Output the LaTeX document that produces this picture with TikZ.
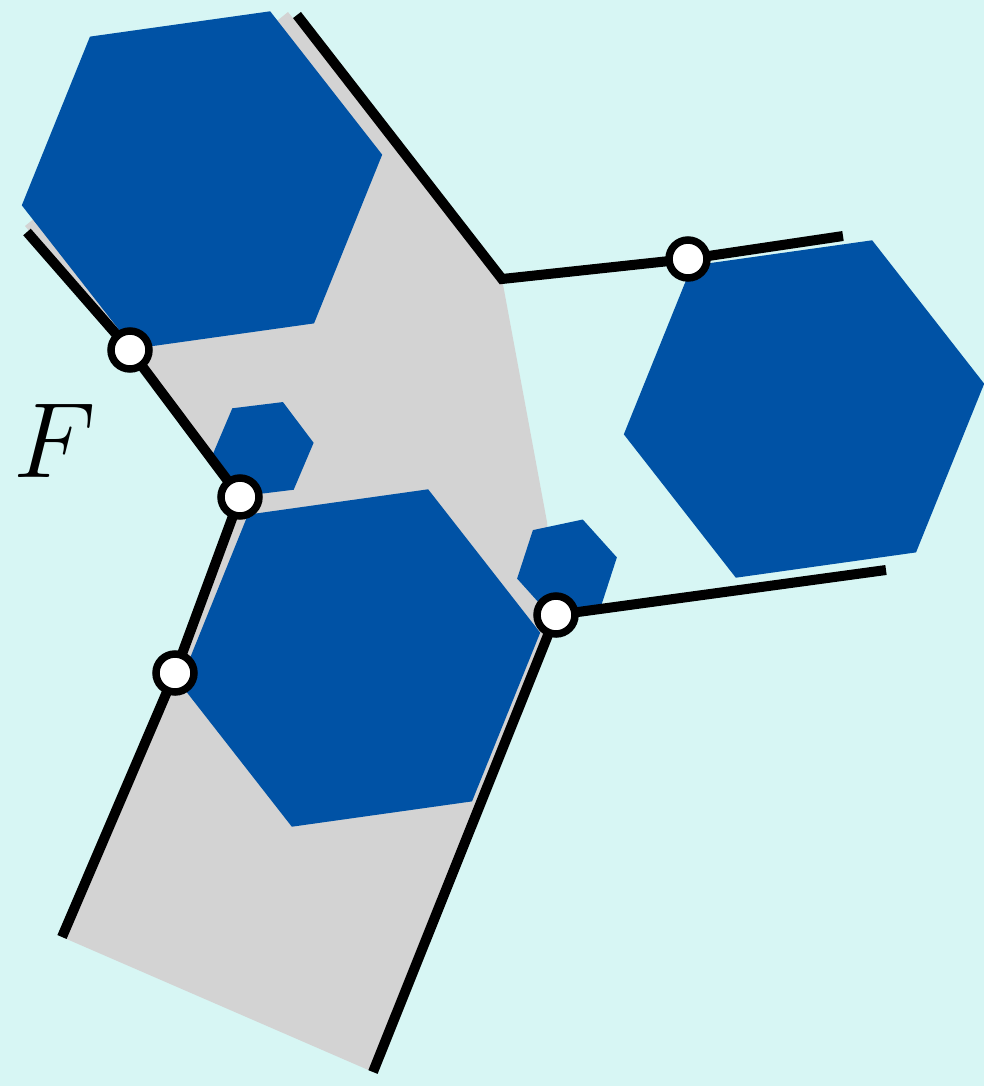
\documentclass[tikz,border=0pt]{standalone}
\usepackage{tikz}
\usetikzlibrary{shapes.geometric}
\definecolor{bgcyan}{HTML}{D7F6F4}
\definecolor{hexblue}{HTML}{0052A5}
\definecolor{regiongray}{HTML}{D3D3D3}

\begin{document}
\begin{tikzpicture}[x=0.02cm,y=-0.02cm,
  hexbig/.style={regular polygon,regular polygon sides=6,fill=hexblue,inner sep=0pt,outer sep=0pt,minimum size=7.28cm,rotate=8},
  hexsmall/.style={hexbig,minimum size=2.04cm},
  wall/.style={line width=0.2cm},
  joint/.style={circle,draw,line width=0.15cm,fill=white,inner sep=0pt,minimum size=0.76cm}
]
\fill[bgcyan] (0,0) rectangle (984,1086);
\useasboundingbox (0,0) rectangle (984,1086);

% points on the walls
\coordinate (p1) at (130,350);
\coordinate (p2) at (240,497);
\coordinate (p3) at (175,673);
\coordinate (p4) at (556,615);
\coordinate (p5) at (688,259);
\coordinate (wa) at (27,232);
\coordinate (wb) at (62,937);
\coordinate (wc) at (297,15);
\coordinate (wd) at (502,279);
\coordinate (we) at (843,236);
\coordinate (wf) at (886,570);
\coordinate (wg) at (373,1072);

% region
\fill[regiongray] (25,226) -- (288,12) -- (wd) -- (547,522) -- (p4) -- (wg)
  -- (wb) -- (p3) -- (p2) -- (p1) -- cycle;

% hexagons
\node[hexbig] (hexA) at (202,180) {};
\node[hexbig] (hexB) at (804,409) {};
\node[hexbig] (hexC) at (360,658) {};
\node[hexsmall,rotate=-1] (hexD) at (263,449) {};
\node[hexsmall,rotate=4] (hexE) at (567,568) {};

% walls
\draw[wall] (wa) -- (p1) -- (p2) -- (p3) -- (wb);
\draw[wall] (wc) -- (wd) -- (p5) -- (we);
\draw[wall] (wf) -- (p4) -- (wg);

\foreach \i in {1,...,5}
  \node[joint] (j\i) at (p\i) {};

\node[font=\Huge,scale=2.45,inner sep=0pt] (lblF) at (55,441) {$F$};
\end{tikzpicture}
\end{document}
